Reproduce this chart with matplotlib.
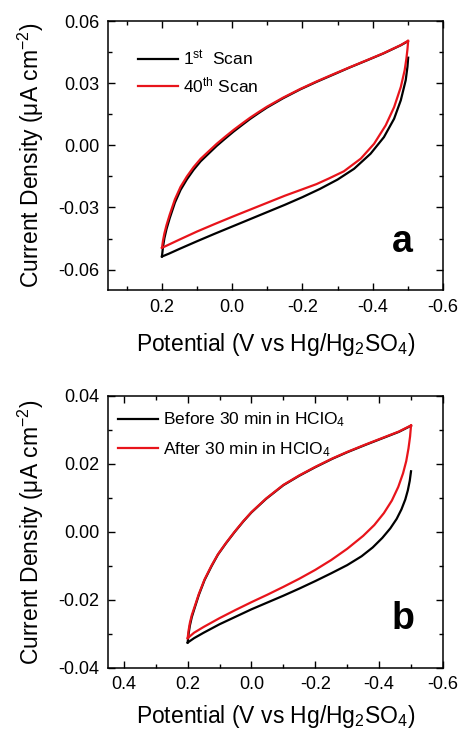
import matplotlib
matplotlib.use("Agg")
import matplotlib.pyplot as plt
from matplotlib.ticker import MultipleLocator, FuncFormatter

plt.rcParams['font.family'] = ['Liberation Sans', 'DejaVu Sans']
plt.rcParams['mathtext.fontset'] = 'custom'
plt.rcParams['mathtext.rm'] = 'Liberation Sans'
plt.rcParams['mathtext.it'] = 'Liberation Sans:italic'
plt.rcParams['mathtext.bf'] = 'Liberation Sans:bold'

# ---- panel a: 1st vs 40th scan ----
# anodic branch (0.2 V -> -0.5 V)
a_up_x = [0.200, 0.197, 0.193, 0.187, 0.178, 0.163, 0.147, 0.129, 0.110, 0.090, 0.068, 0.044, 0.020,
          -0.004, -0.030, -0.051, -0.075, -0.099, -0.145, -0.194, -0.240, -0.289, -0.335, -0.385,
          -0.430, -0.480, -0.500]
a_up_40 = [-0.0495, -0.0460, -0.0425, -0.0385, -0.0335, -0.0260, -0.0200, -0.0150, -0.0105, -0.0065,
           -0.0030, 0.0008, 0.0042, 0.0075, 0.0108, 0.0134, 0.0161, 0.0187, 0.0231, 0.0273, 0.0309,
           0.0345, 0.0378, 0.0413, 0.0445, 0.0485, 0.0505]
a_up_1 = [-0.0537, -0.0490, -0.0448, -0.0404, -0.0352, -0.0276, -0.0215, -0.0164, -0.0118, -0.0077,
          -0.0041, -0.0002, 0.0033, 0.0067, 0.0101, 0.0128, 0.0156, 0.0183, 0.0228, 0.0271, 0.0307,
          0.0343, 0.0377, 0.0412, 0.0444, 0.0484, 0.0503]

# cathodic branch (-0.5 V -> 0.2 V)
a_dn_x40 = [-0.501, -0.499, -0.496, -0.491, -0.480, -0.461, -0.437, -0.404, -0.366, -0.318, -0.275,
            -0.240, -0.200, -0.150, -0.100, -0.050, 0.000, 0.050, 0.100, 0.150, 0.180, 0.200]
a_dn_40 = [0.0505, 0.0465, 0.0420, 0.0363, 0.0282, 0.0185, 0.0097, 0.0008, -0.0064, -0.0125, -0.0160,
           -0.0187, -0.0212, -0.0243, -0.0277, -0.0311, -0.0345, -0.0380, -0.0416, -0.0455, -0.0479,
           -0.0495]
a_dn_x1 = [-0.501, -0.499, -0.494, -0.480, -0.461, -0.432, -0.394, -0.347, -0.300, -0.250, -0.200,
           -0.150, -0.100, -0.050, 0.000, 0.050, 0.100, 0.150, 0.180, 0.200]
a_dn_1 = [0.0424, 0.0380, 0.0315, 0.0218, 0.0129, 0.0040, -0.0040, -0.0113, -0.0165, -0.0210, -0.0250,
          -0.0287, -0.0322, -0.0357, -0.0392, -0.0427, -0.0463, -0.0500, -0.0523, -0.0537]

# ---- panel b: before / after 30 min in HClO4 ----
b_up_x = [0.200, 0.197, 0.193, 0.187, 0.178, 0.165, 0.147, 0.125, 0.105, 0.080, 0.053, 0.025, 0.000,
          -0.046, -0.100, -0.150, -0.200, -0.254, -0.300, -0.358, -0.410, -0.462, -0.500]
b_up_after = [-0.0313, -0.0290, -0.0268, -0.0245, -0.0220, -0.0183, -0.0140, -0.0099, -0.0066, -0.0033,
              0.0000, 0.0032, 0.0058, 0.0098, 0.0138, 0.0166, 0.0191, 0.0216, 0.0235, 0.0257, 0.0276,
              0.0295, 0.0313]
b_up_before = [-0.0326, -0.0300, -0.0276, -0.0251, -0.0224, -0.0186, -0.0142, -0.0101, -0.0067, -0.0034,
               -0.0001, 0.0031, 0.0057, 0.0097, 0.0137, 0.0165, 0.0190, 0.0215, 0.0234, 0.0256, 0.0275,
               0.0294, 0.0312]

b_dn_xa = [-0.500, -0.497, -0.492, -0.485, -0.475, -0.460, -0.440, -0.415, -0.385, -0.350, -0.300,
           -0.250, -0.200, -0.150, -0.100, -0.050, 0.000, 0.050, 0.100, 0.150, 0.180, 0.200]
b_dn_after = [0.0313, 0.0280, 0.0245, 0.0208, 0.0172, 0.0132, 0.0092, 0.0055, 0.0020, -0.0012, -0.0050,
              -0.0083, -0.0112, -0.0138, -0.0162, -0.0185, -0.0207, -0.0230, -0.0254, -0.0280, -0.0297,
              -0.0313]
b_dn_xb = [-0.500, -0.496, -0.490, -0.482, -0.470, -0.455, -0.435, -0.410, -0.380, -0.345, -0.300,
           -0.250, -0.200, -0.150, -0.100, -0.050, 0.000, 0.050, 0.100, 0.150, 0.180, 0.200]
b_dn_before = [0.0178, 0.0150, 0.0122, 0.0095, 0.0066, 0.0038, 0.0010, -0.0018, -0.0046, -0.0072, -0.0098,
               -0.0122, -0.0145, -0.0167, -0.0188, -0.0208, -0.0228, -0.0250, -0.0272, -0.0297, -0.0313,
               -0.0326]

fig = plt.figure(figsize=(4.59, 7.33), dpi=100)
ax1 = fig.add_axes([0.235, 0.604, 0.730, 0.367])
ax2 = fig.add_axes([0.235, 0.089, 0.730, 0.371])

red = '#e8141b'
lw = 1.6
ax1.plot(a_up_x, a_up_1, color='black', lw=lw, label='1$^{\\mathregular{st}}$  Scan')
ax1.plot(a_dn_x1, a_dn_1, color='black', lw=lw)
ax1.plot(a_up_x, a_up_40, color=red, lw=lw, label='40$^{\\mathregular{th}}$ Scan')
ax1.plot(a_dn_x40, a_dn_40, color=red, lw=lw)

ax2.plot(b_up_x, b_up_before, color='black', lw=lw, label='Before 30 min in HClO$_{\\mathregular{4}}$')
ax2.plot(b_dn_xb, b_dn_before, color='black', lw=lw)
ax2.plot(b_up_x, b_up_after, color=red, lw=lw, label='After 30 min in HClO$_{\\mathregular{4}}$')
ax2.plot(b_dn_xa, b_dn_after, color=red, lw=lw)

ax1.set_xlim(0.354, -0.6)
ax1.set_ylim(-0.07, 0.06)
ax1.set_yticks([-0.06, -0.03, 0.00, 0.03, 0.06])
ax1.yaxis.set_minor_locator(MultipleLocator(0.015))
ax1.set_xticks([0.2, 0.0, -0.2, -0.4, -0.6])

ax2.set_xlim(0.45, -0.6)
ax2.set_ylim(-0.04, 0.04)
ax2.set_yticks([-0.04, -0.02, 0.00, 0.02, 0.04])
ax2.yaxis.set_minor_locator(MultipleLocator(0.01))
ax2.set_xticks([0.4, 0.2, 0.0, -0.2, -0.4, -0.6])

xlabel = 'Potential (V vs Hg/Hg$_{\\mathregular{2}}$SO$_{\\mathregular{4}}$)'
for ax, letter, xpad in [(ax1, 'a', 11), (ax2, 'b', 7)]:
    ax.xaxis.set_minor_locator(MultipleLocator(0.1))
    ax.xaxis.set_major_formatter(FuncFormatter(lambda v, p: '%.1f' % v))
    ax.yaxis.set_major_formatter(FuncFormatter(lambda v, p: '%.2f' % v))
    ax.tick_params(which='both', direction='in', top=True, right=True, width=1.0,
                   labelsize=13, pad=6)
    ax.tick_params(which='major', length=5)
    ax.tick_params(which='minor', length=3)
    for s in ax.spines.values():
        s.set_linewidth(1.1)
    ax.set_ylabel('Current Density (\u03bcA cm$^{\\mathregular{-2}}$)', fontsize=16.5, labelpad=9)
    ax.set_xlabel(xlabel, fontsize=16.5, labelpad=xpad)
    ax.text(0.88, 0.18, letter, transform=ax.transAxes, fontsize=27, fontweight='bold',
            ha='center', va='center')

ax1.legend(loc='upper left', bbox_to_anchor=(0.09, 0.90), frameon=False, fontsize=12.5,
           handlelength=2.3, handletextpad=0.3, labelspacing=0.45, borderpad=0, borderaxespad=0)
ax2.legend(loc='upper left', bbox_to_anchor=(0.03, 0.945), frameon=False, fontsize=12.5,
           handlelength=2.3, handletextpad=0.3, labelspacing=0.6, borderpad=0, borderaxespad=0)

fig.savefig('out.png', dpi=100)
